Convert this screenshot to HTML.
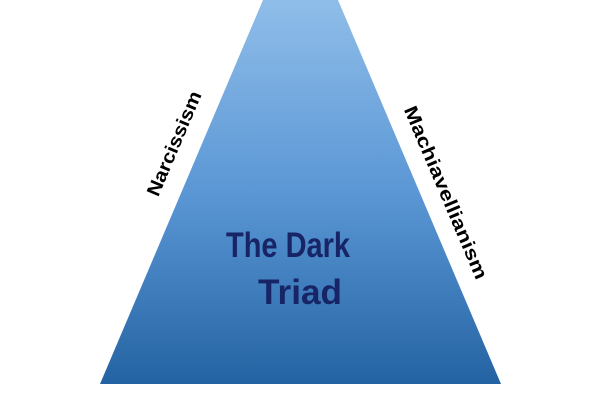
<!DOCTYPE html>
<html><head><style>html,body{margin:0;padding:0;background:#fff;}svg{display:block;}</style></head>
<body>
<svg width="600" height="400" viewBox="0 0 600 400" xmlns="http://www.w3.org/2000/svg">
<defs>
<linearGradient id="g" x1="0" y1="0" x2="0" y2="1">
<stop offset="0" stop-color="#8fbde9"/>
<stop offset="0.5" stop-color="#5b97d5"/>
<stop offset="1" stop-color="#2463a3"/>
</linearGradient>
</defs>
<polygon points="263,0 338,0 501,384 100,384" fill="url(#g)"/>
<g font-family="Liberation Sans, sans-serif" font-weight="bold" fill="#172466" font-size="35" text-anchor="middle">
<text x="288" y="257" textLength="124" lengthAdjust="spacingAndGlyphs">The Dark</text>
<text x="300" y="304" textLength="84" lengthAdjust="spacingAndGlyphs">Triad</text>
</g>
<g font-family="Liberation Sans, sans-serif" font-weight="bold" fill="#000" font-size="19" text-anchor="middle">
<text transform="translate(180,146) rotate(-67)" textLength="112" lengthAdjust="spacingAndGlyphs">Narcissism</text>
<text transform="translate(440,195) rotate(67)" textLength="186" lengthAdjust="spacingAndGlyphs">Machiavellianism</text>
</g>
</svg>
</body></html>
